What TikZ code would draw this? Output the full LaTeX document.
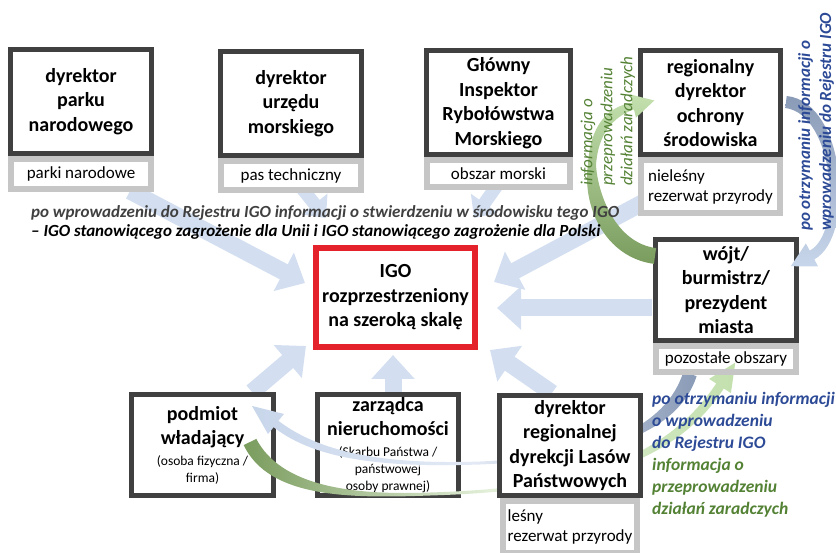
\documentclass[tikz,border=0pt]{standalone}
\usepackage{fontspec}
\setmainfont{Carlito}
\usepackage{tikz}
\usetikzlibrary{arrows.meta,positioning,calc,backgrounds}
\definecolor{ramka}{HTML}{404040}
\definecolor{szary}{HTML}{C6C6C6}
\definecolor{czerwony}{HTML}{E3222B}
\definecolor{strzalka}{HTML}{D3DFF0}
\definecolor{niebieski}{HTML}{2C4A96}
\definecolor{zielony}{HTML}{548235}
\definecolor{tekstszary}{HTML}{404040}
\definecolor{zielciemny}{HTML}{7A9C5E}
\definecolor{zieljasny}{HTML}{C3E0AE}
\definecolor{zielblady}{HTML}{E4F0DA}
\definecolor{niebciemny}{HTML}{8A9BB7}
\definecolor{niebjasny}{HTML}{C8D6EB}
\definecolor{niebblady}{HTML}{E3EAF5}
\newcommand{\drobne}{\mdseries\fontsize{13.5}{17}\selectfont}
\tikzset{
  box/.style={draw=ramka,line width=5pt,fill=white,align=center,inner sep=0pt,
              minimum width=141pt,minimum height=104pt,
              font=\bfseries\fontsize{20}{24.5}\selectfont},   % organ
  area/.style={draw=szary,line width=6pt,fill=white,align=center,inner sep=0pt,
               minimum width=140pt,minimum height=29pt,
               font=\fontsize{17}{20.5}\selectfont},            % obszar
  target/.style={box,draw=czerwony,line width=6pt,minimum width=159pt,minimum height=99pt},
  ar/.style={line width=17pt,strzalka,-{Triangle[length=24pt,width=42pt]}},
  arsmall/.style={line width=13pt,strzalka,-{Triangle[length=18pt,width=32pt]}},
  lbl/.style={inner sep=0pt,align=left,font=\bfseries\itshape\fontsize{17.5}{22}\selectfont}
}

\begin{document}
\begin{tikzpicture}[x=1pt,y=-1pt]
  \useasboundingbox (0,0) rectangle (836,553);
  % gorny rzad
  \node[box] (park) at (81,101.5) {dyrektor\\parku\\narodowego};
  \node[area,minimum height=30pt,below=0pt of park] (parkarea) {parki narodowe};
  \node[box] (urzad) at (291,103.5) {dyrektor\\urzędu\\morskiego};
  \node[area,below=0pt of urzad] (urzadarea) {pas techniczny};
  \node[box,minimum width=144pt] (gir) at (498.5,103) {Główny\\Inspektor\\Rybołówstwa\\Morskiego};
  \node[area,minimum width=143pt,minimum height=27pt,below=0pt of gir] (girarea) {obszar morski};
  \node[box,minimum width=140pt] (rdos) at (710.5,103) {regionalny\\dyrektor\\ochrony\\środowiska};
  \node[area,minimum width=139pt,minimum height=53pt,align=left,below=0pt of rdos] (rdosarea) {nieleśny\\rezerwat przyrody};
  % srodek
  \node[target] (igo) at (395.5,297.5) {IGO\\rozprzestrzeniony\\na szeroką skalę};
  \node[box,minimum height=101pt] (wojt) at (726,290) {wójt/\\burmistrz/\\prezydent\\miasta};
  % dolny rzad
  \node[box,minimum width=142pt,minimum height=101pt] (podmiot) at (202.5,445)
    {podmiot\\władający\\[-4pt]\drobne (osoba fizyczna /\\[-7.5pt]\drobne firma)};
  \node[box,minimum height=101pt] (zarzadca) at (388,445)
    {zarządca\\nieruchomości\\[-4pt]\drobne (Skarbu Państwa /\\[-7.5pt]\drobne państwowej\\[-7.5pt]\drobne osoby prawnej)};

  % luki
  \shade[top color=zieljasny,bottom color=zielciemny]
    (653.9,263.9) .. controls (604,257) and (582,205) .. (588,164.8)
    .. controls (590,126) and (607,107) .. (632.1,102.6) -- (630,94.4) -- (654.3,100.5)
    -- (636,117.6) -- (633.9,109.4) .. controls (613,117) and (598,134) .. (596,165.2)
    .. controls (598,195) and (616,243) .. (656.1,248.1) -- cycle;
  \shade[top color=niebciemny,bottom color=niebjasny]
    (786.7,96.0) .. controls (846,102) and (856,237) .. (814.3,259.4) -- (818.1,266.5)
    -- (790.8,266.2) -- (805.9,243.5) -- (809.7,250.6)
    .. controls (844,233) and (834,114) .. (785.3,108.0) -- cycle;
  \shade[left color=niebjasny,right color=niebciemny,middle color=niebblady]
    (696.6,376.2) .. controls (678,434) and (600,459.5) .. (480,464.5)
    .. controls (388,467.5) and (317,461) .. (273.6,427.2) -- (268,434) -- (252,406)
    -- (284,414) -- (278.4,420.8) .. controls (323,455) and (392,464.5) .. (480,461.5)
    .. controls (600,456.5) and (666,427) .. (683.4,371.8) -- cycle;
  \shade[left color=zielciemny,right color=zieljasny,middle color=zielblady]
    (243.7,445.1) .. controls (269,498) and (349,498.5) .. (430,495.5)
    .. controls (562,491.5) and (670,472) .. (723.8,388.5) -- (730.9,393.1) -- (735.3,362.6)
    -- (709.1,378.9) -- (716.2,383.5) .. controls (660,468) and (558,488.5) .. (430,492.5)
    .. controls (351,495.5) and (281,486) .. (256.3,438.9) -- cycle;

  \node[area,minimum height=26pt,fill=none,below=0pt of wojt] (wojtarea) {pozostałe obszary};
  \node[box,minimum height=100pt] (rdlp) at (570,445.5) {dyrektor\\regionalnej\\dyrekcji Lasów\\Państwowych};
  \node[area,minimum width=134pt,minimum height=52pt,align=left,below=0pt of rdlp] (rdlparea) {leśny\\rezerwat przyrody};

  % opisy
  \node[inner sep=0pt,align=left,anchor=west,font=\bfseries\itshape\fontsize{17}{19}\selectfont] (opis) at (31,222)
    {\textcolor{tekstszary}{po wprowadzeniu do Rejestru IGO informacji o stwierdzeniu w środowisku tego IGO}\\
     – IGO stanowiącego zagrożenie dla Unii i IGO stanowiącego zagrożenie dla Polski};
  \node[rotate=90,anchor=west,inner sep=0pt,align=left,text=zielony,font=\itshape\fontsize{17}{20}\selectfont] (infozar) at (608,186)
    {informacja o\\przeprowadzeniu\\działań zaradczych};
  \node[rotate=90,anchor=west,inner sep=0pt,align=left,text=niebieski,font=\bfseries\itshape\fontsize{17}{21}\selectfont] (inforej) at (816,231)
    {po otrzymaniu informacji o\\wprowadzeniu do Rejestru IGO};
  \node[lbl,text=niebieski,anchor=north west] (inforej2) at (652,392) {po otrzymaniu informacji\\o wprowadzeniu\\do Rejestru IGO};
  \node[lbl,text=zielony,anchor=north west] (infozar2) at (652,458) {informacja o\\przeprowadzeniu\\działań zaradczych};

  % strzalki do IGO
  \begin{scope}[on background layer]
    \draw[ar] ($(parkarea.south east)+(-24,-1)$) -- ($(igo.west)+(-8,-14.5)$);
    \draw[arsmall] ($(urzadarea.south)+(9,-7)$) -- ($(igo.north west)+(13,-27)$);
    \draw[arsmall] ($(girarea.south)+(-1.5,-5)$) -- ($(igo.north east)+(-4,-27)$);
    \draw[ar] ($(rdosarea.west)+(7,14.5)$) -- ($(igo.east)+(16,-15.5)$);
    \draw[ar] ($(wojt.west)+(-1,18)$) -- ($(igo.east)+(19,10.5)$);
    \draw[ar] ($(podmiot.north east)+(-24,0)$) -- ($(igo.south west)+(-7,-4)$);
    \draw[ar] ($(zarzadca.north)+(5,0)$) -- ($(igo.south)+(-2.5,5)$);
    \draw[ar] ($(rdlp.north)+(-18,0)$) -- ($(igo.south east)+(12,0)$);
  \end{scope}
\end{tikzpicture}
\end{document}
